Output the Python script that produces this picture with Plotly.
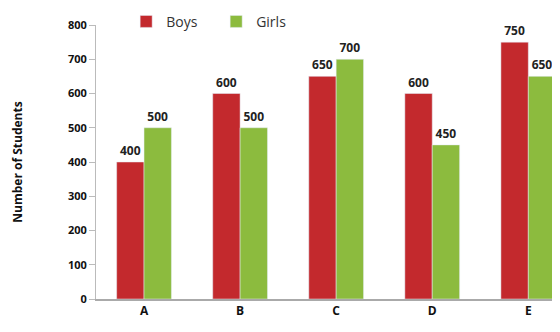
import plotly.graph_objects as go

categories = ["A", "B", "C", "D", "E"]
boys = [400, 600, 650, 600, 750]
girls = [500, 500, 700, 450, 650]
y_ticks = [0, 100, 200, 300, 400, 500, 600, 700, 800]

red = "#C3292D"
green = "#8CBB3E"
fnt = "Open Sans"

fig = go.Figure()
for name, vals, col in [("Boys", boys, red), ("Girls", girls, green)]:
    fig.add_trace(go.Bar(name=name, x=categories, y=vals, marker_color=col,
                         text=[str(v) for v in vals], textposition="outside",
                         textfont=dict(family=fnt, size=12, color="#222", weight="bold"),
                         cliponaxis=False))

# page body has an 8px default margin, so the figure is sized to fit the window
fig.update_layout(
    width=552, height=324,
    margin=dict(l=88, r=0, t=17, b=33, autoexpand=False),
    paper_bgcolor="white", plot_bgcolor="white",
    barmode="group", bargap=0.43, bargroupgap=0,
    font=dict(family=fnt, color="#222"),
    legend=dict(orientation="h", x=0.065, xanchor="left", y=1.07, yanchor="top",
                font=dict(family=fnt, size=14, color="#333"), itemwidth=30,
                entrywidth=45, entrywidthmode="pixels",
                bgcolor="rgba(0,0,0,0)"),
    showlegend=True,
)
fig.update_xaxes(range=[-0.5, 4.33], showline=True, linecolor="#AAAAAA", linewidth=2,
                 ticks="", tickfont=dict(family=fnt, size=12, color="#111", weight="bold"),
                 showgrid=False, automargin=False)
fig.update_yaxes(range=[0, 800], tickvals=y_ticks, showline=True, linecolor="#BBBBBB",
                 linewidth=1, ticks="outside", ticklen=6, tickcolor="#BBBBBB",
                 showgrid=False, zeroline=False, automargin=False,
                 tickfont=dict(family=fnt, size=11, color="#111", weight="bold"),
                 title=dict(text="Number of Students", standoff=42,
                            font=dict(family=fnt, size=12, color="#111", weight="bold")))

fig.write_html("out.html")
